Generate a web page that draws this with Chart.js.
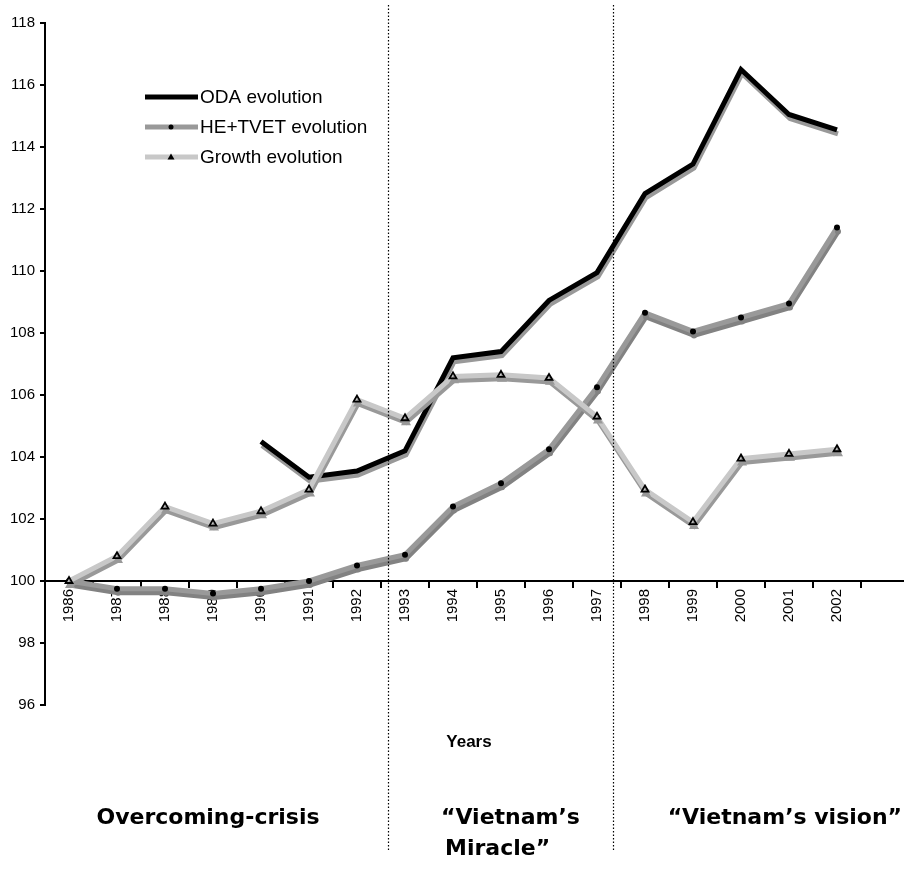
<!DOCTYPE html>
<html>
<head>
<meta charset="utf-8">
<script src="https://cdn.jsdelivr.net/npm/chart.js@4/dist/chart.umd.min.js"></script>
<style>
  html, body { margin: 0; padding: 0; background: #fff; overflow: hidden; }
  #box { width: 904px; height: 891px; position: relative; }
</style>
</head>
<body>
<div id="box"><canvas id="grafico"></canvas></div>
<script>
// Datos
const anios    = ['1986','1987','1988','1989','1990','1991','1992','1993','1994','1995','1996','1997','1998','1999','2000','2001','2002'];
const oda      = [null, null, null, null, 104.5, 103.35, 103.55, 104.2, 107.2, 107.4, 109.05, 109.95, 112.5, 113.45, 116.5, 115.05, 114.55];
const heTvet   = [100, 99.75, 99.75, 99.6, 99.75, 100, 100.5, 100.85, 102.4, 103.15, 104.25, 106.25, 108.65, 108.05, 108.5, 108.95, 111.4];
const growth   = [100, 100.8, 102.4, 101.85, 102.25, 102.95, 105.85, 105.25, 106.6, 106.65, 106.55, 105.3, 102.95, 101.9, 103.95, 104.1, 104.25];
const nombres  = ['ODA evolution', 'HE+TVET evolution', 'Growth evolution'];
const yTicks   = [96, 98, 100, 102, 104, 106, 108, 110, 112, 114, 116, 118];
const periodos = ['Overcoming-crisis', '\u201CVietnam\u2019s', 'Miracle\u201D', '\u201CVietnam\u2019s vision\u201D'];

const fuente = "'Liberation Sans', Arial, sans-serif";

// Sombra tipo Excel debajo de cada línea
const sombraPlugin = {
    id: 'sombra',
    beforeDatasetDraw(chart, args) {
        const ds = chart.data.datasets[args.index];
        const ctx = chart.ctx;
        ctx.save();
        ctx.shadowColor = ds.sombra;
        ctx.shadowOffsetX = 1;
        ctx.shadowOffsetY = 4;
        ctx.shadowBlur = 0;
    },
    afterDatasetDraw(chart) {
        chart.ctx.restore();
    }
};

// Leyenda, líneas punteadas y textos de periodos
const extrasPlugin = {
    id: 'extras',
    afterDraw(chart) {
        const ctx = chart.ctx;
        const x = chart.scales.x, y = chart.scales.y;
        const y100 = y.getPixelForValue(100);

        // prolongar eje X hasta el borde
        ctx.save();
        ctx.strokeStyle = '#000';
        ctx.lineWidth = 2;
        ctx.beginPath();
        ctx.moveTo(chart.chartArea.right, y100);
        ctx.lineTo(chart.width, y100);
        ctx.stroke();

        // divisiones de periodos (punteadas)
        const paso = x.getPixelForValue(1) - x.getPixelForValue(0);
        [6.65, 11.33].forEach(v => {
            const px = Math.round(x.getPixelForValue(Math.floor(v)) + (v - Math.floor(v)) * paso) + 0.5;
            ctx.strokeStyle = '#000';
            ctx.lineWidth = 1.2;
            ctx.setLineDash([1.5, 2]);
            ctx.beginPath();
            ctx.moveTo(px, 5);
            ctx.lineTo(px, 850);
            ctx.stroke();
        });
        ctx.setLineDash([]);

        // leyenda
        chart.data.datasets.forEach((ds, i) => {
            const ly = 97 + i * 30;
            ctx.strokeStyle = ds.borderColor;
            ctx.lineWidth = 5;
            ctx.beginPath();
            ctx.moveTo(145, ly);
            ctx.lineTo(198, ly);
            ctx.stroke();
            if (ds.pointRadius > 0) {
                ctx.fillStyle = '#000';
                ctx.beginPath();
                if (ds.pointStyle === 'triangle') {
                    ctx.moveTo(171, ly - 3.5);
                    ctx.lineTo(174.5, ly + 2.5);
                    ctx.lineTo(167.5, ly + 2.5);
                    ctx.closePath();
                } else {
                    ctx.arc(171, ly, 2.5, 0, Math.PI * 2);
                }
                ctx.fill();
            }
            ctx.fillStyle = '#000';
            ctx.font = '19px ' + fuente;
            ctx.textAlign = 'left';
            ctx.textBaseline = 'middle';
            ctx.fillText(ds.label, 200, ly + 1);
        });

        // título del eje
        ctx.font = 'bold 17px ' + fuente;
        ctx.textAlign = 'center';
        ctx.fillText('Years', 469, 742);

        // nombres de los periodos
        ctx.font = "bold 22px 'DejaVu Sans', Verdana, sans-serif";
        ctx.textAlign = 'center';
        ctx.fillText(periodos[0], 208, 818);
        ctx.textAlign = 'left';
        ctx.fillText(periodos[1], 441, 818);
        ctx.fillText(periodos[2], 445, 849);
        ctx.textAlign = 'right';
        ctx.fillText(periodos[3], 902, 818);
        ctx.restore();
    }
};

new Chart(document.getElementById('grafico'), {
    type: 'line',
    data: {
        labels: anios,
        datasets: [
            {
                label: nombres[0],
                data: oda,
                borderColor: '#000000',
                sombra: '#999999',
                borderWidth: 5,
                pointRadius: 0,
                tension: 0,
                order: 3
            },
            {
                label: nombres[1],
                data: heTvet,
                borderColor: '#999999',
                sombra: '#828282',
                borderWidth: 5,
                pointStyle: 'circle',
                pointRadius: 3,
                pointBackgroundColor: '#000',
                pointBorderColor: '#000',
                pointBorderWidth: 0,
                tension: 0,
                order: 2
            },
            {
                label: nombres[2],
                data: growth,
                borderColor: '#c8c8c8',
                sombra: '#999999',
                borderWidth: 5,
                pointStyle: 'triangle',
                pointRadius: 4,
                pointBackgroundColor: '#c8c8c8',
                pointBorderColor: '#000',
                pointBorderWidth: 1.8,
                tension: 0,
                order: 1
            }
        ]
    },
    options: {
        responsive: true,
        maintainAspectRatio: false,
        animation: false,
        layout: { padding: { top: 23, right: 43, bottom: 186, left: 0 } },
        plugins: {
            legend: { display: false },
            tooltip: { enabled: false }
        },
        scales: {
            x: {
                type: 'category',
                position: { y: 100 },
                offset: true,
                border: { color: '#000', width: 2 },
                grid: { drawOnChartArea: false, drawTicks: true, tickLength: 6, color: '#000', lineWidth: 2, offset: true },
                ticks: {
                    autoSkip: false, minRotation: 90, maxRotation: 90,
                    color: '#000', padding: 2,
                    font: { family: fuente, size: 15 }
                }
            },
            y: {
                min: 96,
                max: 118,
                afterFit(s) { s.width = 45; },
                afterBuildTicks(s) { s.ticks = yTicks.map(v => ({ value: v })); },
                border: { color: '#000', width: 2 },
                grid: { drawOnChartArea: false, drawTicks: true, tickLength: 5, color: '#000', lineWidth: 2 },
                ticks: {
                    color: '#000', padding: 5,
                    font: { family: fuente, size: 15 }
                }
            }
        }
    },
    plugins: [sombraPlugin, extrasPlugin]
});
</script>
</body>
</html>
